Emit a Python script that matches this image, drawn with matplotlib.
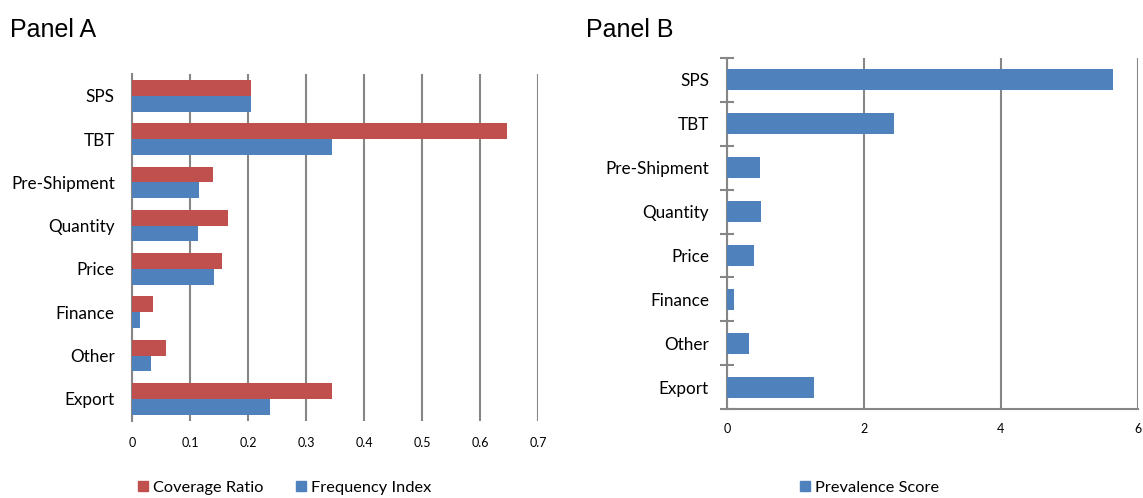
import matplotlib
matplotlib.use("Agg")
import matplotlib.pyplot as plt
import numpy as np
from matplotlib.patches import Patch

plt.rcParams['font.family'] = ['Lato', 'DejaVu Sans']

categories = ["SPS", "TBT", "Pre-Shipment", "Quantity", "Price", "Finance", "Other", "Export"]
coverage_ratio = [0.206, 0.646, 0.140, 0.165, 0.156, 0.036, 0.059, 0.345]
frequency_index = [0.206, 0.345, 0.116, 0.113, 0.142, 0.013, 0.032, 0.238]
prevalence_score = [5.64, 2.44, 0.48, 0.49, 0.40, 0.11, 0.325, 1.27]
ticks_a = [0, 0.1, 0.2, 0.3, 0.4, 0.5, 0.6, 0.7]
ticks_b = [0, 2, 4, 6]

RED = "#C0504D"
BLUE = "#4F81BD"
GRID = "#868686"

fig = plt.figure(figsize=(11.43, 4.98), dpi=100)

# Panel A
axA = fig.add_axes([0.1155, 0.1556, 0.3552, 0.6955])
n = len(categories)
y = np.arange(n)
h = 0.365
axA.barh(y - h / 2, coverage_ratio, height=h, color=RED, zorder=3)
axA.barh(y + h / 2, frequency_index, height=h, color=BLUE, zorder=3)
axA.set_ylim(n - 0.5, -0.5)
axA.set_xlim(0, 0.7)
axA.set_xticks(ticks_a)
axA.set_xticklabels([("%g" % t) for t in ticks_a], fontsize=9)
axA.set_yticks(y)
axA.set_yticklabels(categories, fontsize=12.3)
axA.tick_params(axis='y', length=0, pad=12.5)
axA.tick_params(axis='x', length=0, pad=12)
for s in ["top", "right", "bottom"]:
    axA.spines[s].set_visible(False)
axA.spines["left"].set_color(GRID)
axA.spines["left"].set_linewidth(1.5)
axA.xaxis.grid(True, color=GRID, linewidth=1.5, zorder=0)
axA.set_axisbelow(True)

# Panel B
axB = fig.add_axes([0.636, 0.1787, 0.3596, 0.7048])
axB.barh(y, prevalence_score, height=0.48, color=BLUE, zorder=3)
axB.set_ylim(n - 0.5, -0.5)
axB.set_xlim(0, 6)
axB.set_xticks(ticks_b)
axB.set_xticklabels([str(t) for t in ticks_b], fontsize=9)
axB.set_yticks(y)
axB.set_yticklabels(categories, fontsize=12.3)
axB.set_yticks(np.arange(-0.5, n, 1.0), minor=True)
axB.tick_params(axis='y', which='major', length=0, pad=13)
axB.tick_params(axis='y', which='minor', length=10, direction='inout', color=GRID, width=1.5)
axB.tick_params(axis='x', length=0, pad=10)
for s in ["top", "right"]:
    axB.spines[s].set_visible(False)
for s in ["left", "bottom"]:
    axB.spines[s].set_color(GRID)
    axB.spines[s].set_linewidth(1.5)
axB.xaxis.grid(True, color=GRID, linewidth=1.5, zorder=0)
axB.set_axisbelow(True)

fig.text(0.009, 0.94, "Panel A", fontsize=18, va="center", ha="left", family="Liberation Sans")
fig.text(0.513, 0.94, "Panel B", fontsize=18, va="center", ha="left", family="Liberation Sans")

legA = fig.legend(handles=[Patch(color=RED, label="Coverage Ratio"), Patch(color=BLUE, label="Frequency Index")],
                  loc="center left", bbox_to_anchor=(0.108, 0.02), ncol=2, frameon=False,
                  fontsize=11.8, handlelength=0.6, handleheight=0.6, handletextpad=0.3, columnspacing=2.0)
legB = fig.legend(handles=[Patch(color=BLUE, label="Prevalence Score")],
                  loc="center left", bbox_to_anchor=(0.687, 0.02), frameon=False,
                  fontsize=11.8, handlelength=0.6, handleheight=0.6, handletextpad=0.3)

fig.savefig("out.png", dpi=100)
